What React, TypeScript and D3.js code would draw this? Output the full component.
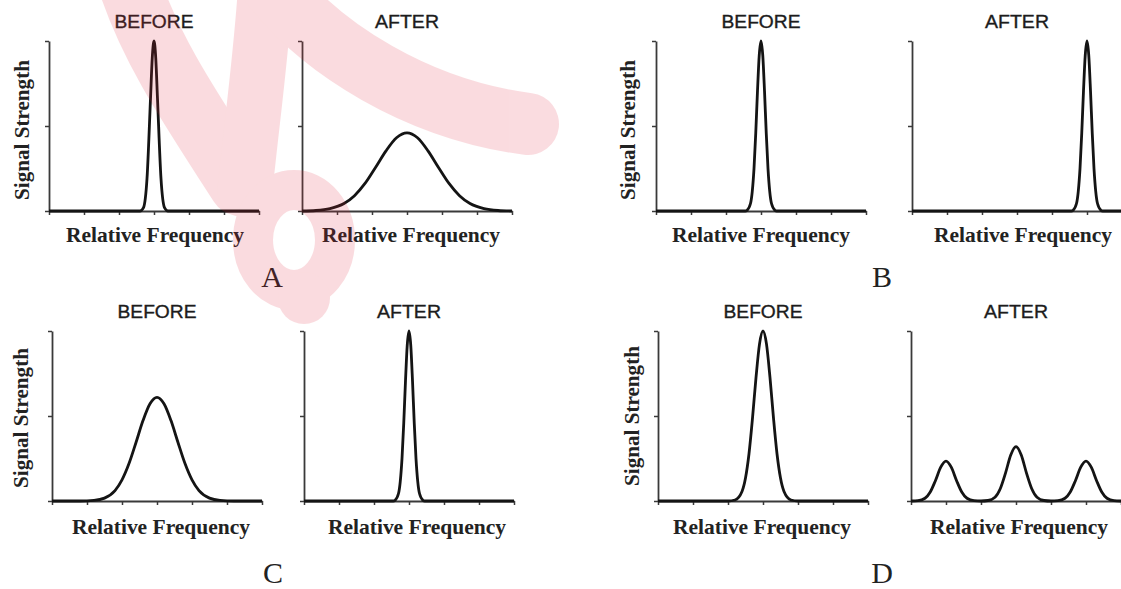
import React, { useEffect, useRef } from 'react';
import * as d3 from 'd3';

type Pt = [number, number];

// ---- data (x in relative-frequency tick units 0..6, y in signal strength 0..1) ----
const FREQ_TICKS = [0, 1, 2, 3, 4, 5, 6];
const STRENGTH_TICKS = [0, 0.5, 1];
const PANEL_LETTERS = ['A', 'B', 'C', 'D'];
const STAGE_TITLES = ['BEFORE', 'AFTER'];
const X_LABEL = 'Relative Frequency';
const Y_LABEL = 'Signal Strength';

const aBefore: Pt[] = [[0, 0], [2.6, 0], [2.7, 0.02], [2.8, 0.19], [2.9, 0.66], [2.95, 0.9], [3, 1], [3.05, 0.9], [3.1, 0.66], [3.2, 0.19], [3.3, 0.02], [3.4, 0], [6, 0]];
const aAfter: Pt[] = [[0, 0], [0.4, 0.003], [0.8, 0.014], [1.2, 0.044], [1.5, 0.09], [1.8, 0.162], [2.1, 0.256], [2.4, 0.354], [2.7, 0.431], [3, 0.46], [3.3, 0.431], [3.6, 0.354], [3.9, 0.256], [4.2, 0.162], [4.5, 0.09], [4.8, 0.044], [5.2, 0.014], [5.6, 0.003], [6, 0]];
const bBefore: Pt[] = [[0, 0], [2.55, 0], [2.6, 0.004], [2.7, 0.044], [2.75, 0.114], [2.8, 0.249], [2.85, 0.458], [2.9, 0.707], [2.95, 0.917], [3, 1], [3.05, 0.917], [3.1, 0.707], [3.15, 0.458], [3.2, 0.249], [3.25, 0.114], [3.3, 0.044], [3.4, 0.004], [3.45, 0], [6, 0]];
const bAfter: Pt[] = [[0, 0], [4.55, 0], [4.6, 0.004], [4.7, 0.044], [4.75, 0.114], [4.8, 0.249], [4.85, 0.458], [4.9, 0.707], [4.95, 0.917], [5, 1], [5.05, 0.917], [5.1, 0.707], [5.15, 0.458], [5.2, 0.249], [5.25, 0.114], [5.3, 0.044], [5.4, 0.004], [5.45, 0], [6, 0]];
const cBefore: Pt[] = [[0, 0], [0.8, 0], [1.2, 0.0035], [1.5, 0.017], [1.8, 0.061], [2, 0.124], [2.2, 0.22], [2.4, 0.344], [2.6, 0.473], [2.8, 0.572], [3, 0.61], [3.2, 0.572], [3.4, 0.473], [3.6, 0.344], [3.8, 0.22], [4, 0.124], [4.2, 0.061], [4.5, 0.017], [4.8, 0.0035], [5.2, 0], [6, 0]];
const cAfter: Pt[] = [[0, 0], [2.55, 0], [2.6, 0.004], [2.7, 0.044], [2.75, 0.114], [2.8, 0.249], [2.85, 0.458], [2.9, 0.707], [2.95, 0.917], [3, 1], [3.05, 0.917], [3.1, 0.707], [3.15, 0.458], [3.2, 0.249], [3.25, 0.114], [3.3, 0.044], [3.4, 0.004], [3.45, 0], [6, 0]];
const dBefore: Pt[] = [[0, 0], [2, 0], [2.2, 0.006], [2.4, 0.056], [2.5, 0.135], [2.6, 0.278], [2.7, 0.487], [2.8, 0.726], [2.9, 0.923], [3, 1], [3.1, 0.923], [3.2, 0.726], [3.3, 0.487], [3.4, 0.278], [3.5, 0.135], [3.6, 0.056], [3.8, 0.006], [4, 0], [6, 0]];
const dAfter: Pt[] = [[0, 0], [0.2, 0.002], [0.4, 0.016], [0.55, 0.053], [0.7, 0.121], [0.85, 0.199], [1, 0.235], [1.15, 0.199], [1.3, 0.121], [1.45, 0.053], [1.6, 0.016], [1.8, 0.002], [2, 0], [2.2, 0.003], [2.4, 0.022], [2.55, 0.072], [2.7, 0.164], [2.85, 0.271], [3, 0.32], [3.15, 0.271], [3.3, 0.164], [3.45, 0.072], [3.6, 0.022], [3.8, 0.003], [4, 0], [4.2, 0.002], [4.4, 0.016], [4.55, 0.053], [4.7, 0.121], [4.85, 0.199], [5, 0.235], [5.15, 0.199], [5.3, 0.121], [5.45, 0.053], [5.6, 0.016], [5.8, 0.002], [6, 0]];

const CURVES: Pt[][][] = [[aBefore, aAfter], [bBefore, bAfter], [cBefore, cAfter], [dBefore, dAfter]];

// ---- layout ----
const W = 1121;
const H = 589;
const PLOT_W = 210;
const PANELS = [
  { lefts: [49, 302], top: 41, bottom: 211, xlab: [155, 411], xlabY: 242, ylab: [22, 130], letter: [272, 287] },
  { lefts: [656, 912], top: 41, bottom: 211, xlab: [761, 1023], xlabY: 242, ylab: [628, 130], letter: [882, 287] },
  { lefts: [52, 304], top: 331, bottom: 501, xlab: [161, 417], xlabY: 534, ylab: [21, 418], letter: [273, 583] },
  { lefts: [658, 911], top: 331, bottom: 501, xlab: [762, 1019], xlabY: 534, ylab: [632, 416], letter: [882, 583] },
];

const SANS = "'Liberation Sans', Arial, sans-serif";
const SERIF = "'Liberation Serif', 'Times New Roman', serif";

export default function App() {
  const ref = useRef<SVGSVGElement | null>(null);

  useEffect(() => {
    const svg = d3.select(ref.current);
    svg.selectAll('*').remove();
    svg.append('rect').attr('width', W).attr('height', H).attr('fill', '#fff');

    PANELS.forEach((p, pi) => {
      const g = svg.append('g');
      p.lefts.forEach((left, si) => {
        const x = d3.scaleLinear().domain([0, 6]).range([left, left + PLOT_W]);
        const y = d3.scaleLinear().domain([0, 1]).range([p.bottom, p.top]);

        const xAxis = g.append('g').attr('transform', `translate(0,${p.bottom})`)
          .call(d3.axisBottom(x).tickValues(FREQ_TICKS).tickSize(4).tickSizeOuter(0).tickFormat(() => ''));
        const yAxis = g.append('g').attr('transform', `translate(${left},0)`)
          .call(d3.axisLeft(y).tickValues(STRENGTH_TICKS).tickSize(4).tickSizeOuter(0).tickFormat(() => ''));
        [xAxis, yAxis].forEach(ax => {
          ax.selectAll('path').attr('stroke', '#3a3a3a').attr('stroke-width', 1.8);
          ax.selectAll('line').attr('stroke', '#3a3a3a').attr('stroke-width', 1.5);
        });

        const line = d3.line<Pt>().x(d => x(d[0])).y(d => y(d[1])).curve(d3.curveMonotoneX);
        g.append('path').datum(CURVES[pi][si]).attr('d', line).attr('fill', 'none')
          .attr('stroke', '#141414').attr('stroke-width', 2.8).attr('stroke-linejoin', 'round');

        g.append('text').text(STAGE_TITLES[si])
          .attr('x', x(3)).attr('y', p.top - 13)
          .attr('text-anchor', 'middle').attr('font-family', SANS).attr('font-size', 18)
          .attr('textLength', si === 0 ? 79 : 64).attr('lengthAdjust', 'spacingAndGlyphs')
          .attr('fill', '#1c1c1c').attr('stroke', '#1c1c1c').attr('stroke-width', 0.35);

        g.append('text').text(X_LABEL)
          .attr('x', p.xlab[si]).attr('y', p.xlabY)
          .attr('text-anchor', 'middle').attr('font-family', SERIF).attr('font-weight', 'bold').attr('font-size', 21)
          .attr('textLength', 178).attr('lengthAdjust', 'spacingAndGlyphs')
          .attr('fill', '#222');
      });

      g.append('text').text(Y_LABEL)
        .attr('transform', `translate(${p.ylab[0]},${p.ylab[1]}) rotate(-90)`)
        .attr('text-anchor', 'middle').attr('dominant-baseline', 'central')
        .attr('font-family', SERIF).attr('font-weight', 'bold').attr('font-size', 20)
        .attr('textLength', 140).attr('lengthAdjust', 'spacingAndGlyphs')
        .attr('fill', '#222');

      g.append('text').text(PANEL_LETTERS[pi])
        .attr('x', p.letter[0]).attr('y', p.letter[1])
        .attr('text-anchor', 'middle').attr('font-family', SERIF).attr('font-size', 30)
        .attr('fill', '#222');
    });

    // watermark overlay
    const WM = 'rgb(225,40,60)';
    const wm = svg.append('g').attr('opacity', 0.16).attr('fill', 'none')
      .attr('stroke', WM).attr('stroke-linecap', 'round');
    wm.append('path').attr('d', 'M 128,-20 C 150,50 195,115 240,185').attr('stroke-width', 62);
    wm.append('path').attr('d', 'M 266,-20 C 262,50 252,120 245,190').attr('stroke-width', 55);
    wm.append('path').attr('d', 'M 268,-20 C 320,50 420,110 528,124').attr('stroke-width', 62);
    wm.append('ellipse').attr('cx', 294).attr('cy', 240).attr('rx', 41).attr('ry', 50).attr('stroke-width', 40);
    wm.append('circle').attr('cx', 304).attr('cy', 298).attr('r', 26).attr('fill', WM).attr('stroke', 'none');
  }, []);

  return (
    <svg ref={ref} width={W} height={H} style={{ position: 'absolute', left: 0, top: 0 }} />
  );
}
